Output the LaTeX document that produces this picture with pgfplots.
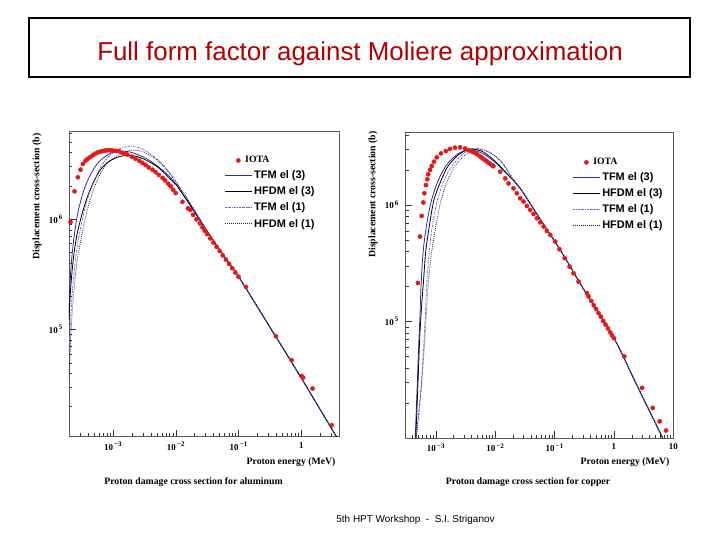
\documentclass[border=0pt]{standalone}
\usepackage{fontspec}
\setmainfont{Liberation Serif}
\newfontfamily\legfont{Liberation Sans}
\usepackage{pgfplots}
\pgfplotsset{compat=1.18}
\definecolor{iotared}{RGB}{228,24,24}
\definecolor{tfmblue}{RGB}{45,45,175}
\definecolor{tfmdot}{RGB}{100,100,210}
\definecolor{hfdmdot}{RGB}{30,30,70}
\definecolor{titlered}{RGB}{178,0,0}
\newcommand{\ex}[1]{10\raisebox{3.5bp}{\fontsize{7}{8}\selectfont\,#1}}
\begin{document}
\begin{tikzpicture}
\fill[white] (0bp,0bp) rectangle (720bp,540bp);
% title box
\draw[line width=1.8bp] (29bp,522bp) rectangle (690bp,463bp);
\node[text=titlered, font=\legfont\fontsize{26}{30}\selectfont] at (360bp,486bp) {Full form factor against Moliere approximation};
\node[font=\legfont\fontsize{10}{12}\selectfont] at (415.5bp,20bp) {5th HPT Workshop \ - \ S.I. Striganov};

% ---------------- aluminum ----------------
\begin{axis}[xmode=log, ymode=log, scale only axis, anchor=south west,
  at={(69bp,103.3bp)}, width=270bp, height=305bp,
  axis line style={draw=black!65, line width=0.5bp},
  every tick/.style={draw=black!80, line width=0.4bp},
  tick align=inside, xtick pos=left, ytick pos=left,
  major tick length=7bp, minor tick length=3.5bp,
  tick label style={font=\bfseries\fontsize{9}{10}\selectfont},
  xticklabel style={yshift=-2bp},
  yticklabel style={xshift=-3bp},
  ytick={1e5,1e6}, yticklabels={\ex{5},\ex{6}},
  legend style={draw=none, fill=none, anchor=north west, inner sep=0pt, row sep=2.6bp,
    font=\legfont\bfseries\fontsize{11}{13}\selectfont, at={(0.575,0.926)}},
  legend cell align=left,
  legend image code/.code={\draw[mark repeat=2,mark phase=2,#1] plot coordinates {(0bp,0bp) (13.5bp,0bp) (27bp,0bp)};},
  xmin=2e-4, xmax=3.98, ymin=1.07e4, ymax=6.18e6,
  xtick={1e-3,1e-2,1e-1,1},
  xticklabels={\ex{−3},\ex{−2},\ex{−1},1},
  minor xtick={3e-4,4e-4,5e-4,6e-4,7e-4,8e-4,9e-4,2e-3,3e-3,4e-3,5e-3,6e-3,7e-3,8e-3,9e-3,2e-2,3e-2,4e-2,5e-2,6e-2,7e-2,8e-2,9e-2,0.2,0.3,0.4,0.5,0.6,0.7,0.8,0.9,2,3},
  minor ytick={2e4,3e4,4e4,5e4,6e4,7e4,8e4,9e4,2e5,3e5,4e5,5e5,6e5,7e5,8e5,9e5,2e6,3e6,4e6,5e6,6e6}]
\addplot[only marks, mark=*, mark size=2.1bp, color=iotared] coordinates {
(2.11e-4,9.40e5) (2.45e-4,1.78e6) (2.77e-4,2.39e6) (3.05e-4,2.80e6) (3.33e-4,3.16e6) (3.67e-4,3.38e6)
(3.98e-4,3.51e6) (4.37e-4,3.65e6) (4.79e-4,3.78e6) (5.25e-4,3.91e6) (5.75e-4,4.01e6) (6.31e-4,4.07e6)
(6.92e-4,4.13e6) (7.59e-4,4.17e6) (8.32e-4,4.19e6) (9.12e-4,4.19e6) (1.00e-3,4.17e6) (1.12e-3,4.14e6)
(1.26e-3,4.11e6) (1.41e-3,3.98e6) (1.58e-3,3.89e6) (1.70e-3,3.83e6) (2.00e-3,3.67e6) (2.29e-3,3.52e6)
(2.63e-3,3.37e6) (2.95e-3,3.22e6) (3.31e-3,3.09e6) (3.72e-3,2.93e6) (4.27e-3,2.80e6) (4.79e-3,2.66e6)
(5.37e-3,2.51e6) (6.17e-3,2.36e6) (6.76e-3,2.24e6) (7.59e-3,2.09e6) (8.32e-3,1.98e6) (9.12e-3,1.84e6)
(1.00e-2,1.72e6) (1.28e-2,1.43e6) (1.57e-2,1.25e6) (1.71e-2,1.21e6) (1.89e-2,1.09e6) (2.14e-2,9.93e5)
(2.42e-2,9.14e5) (2.67e-2,8.41e5) (2.90e-2,7.83e5) (3.16e-2,7.31e5) (3.55e-2,6.68e5) (3.98e-2,6.11e5)
(4.47e-2,5.60e5) (5.01e-2,5.13e5) (5.62e-2,4.68e5) (6.31e-2,4.29e5) (7.08e-2,3.93e5) (7.94e-2,3.59e5)
(8.91e-2,3.28e5) (0.100,3.00e5) (0.131,2.43e5) (0.394,8.69e4) (0.700,5.27e4) (1.01,3.78e4)
(1.07,3.67e4) (1.51,2.92e4) (3.04,1.36e4)};
\addlegendentry{\hspace{-9bp}\rmfamily\fontsize{9.8}{12}\selectfont IOTA}
\addplot[color=tfmblue, line width=0.8bp, no marks, smooth] coordinates {
(2.00e-4,1.41e5) (2.09e-4,2.82e5) (2.24e-4,4.79e5) (2.45e-4,7.41e5) (2.75e-4,1.12e6) (3.31e-4,1.70e6)
(3.98e-4,2.24e6) (5.01e-4,2.88e6) (6.31e-4,3.39e6) (7.94e-4,3.76e6) (1.00e-3,4.02e6) (1.26e-3,4.11e6)
(1.58e-3,4.10e6) (2.00e-3,4.01e6) (2.51e-3,3.82e6) (3.16e-3,3.61e6) (3.98e-3,3.35e6) (5.01e-3,3.05e6)
(6.31e-3,2.74e6) (7.94e-3,2.43e6) (1.00e-2,2.08e6) (1.26e-2,1.72e6) (2.00e-2,1.16e6) (3.16e-2,7.76e5)
(5.62e-2,4.79e5) (0.1,3.02e5) (0.316,1.05e5) (1.0,3.63e4) (3.98,9.77e3)};
\addlegendentry{TFM el (3)}
\addplot[color=black, line width=0.8bp, no marks, smooth] coordinates {
(2.00e-4,1.23e5) (2.09e-4,2.04e5) (2.24e-4,3.39e5) (2.45e-4,5.31e5) (2.75e-4,7.76e5) (3.31e-4,1.17e6)
(3.98e-4,1.62e6) (5.01e-4,2.21e6) (6.31e-4,2.79e6) (7.94e-4,3.20e6) (1.00e-3,3.48e6) (1.26e-3,3.67e6)
(1.58e-3,3.77e6) (2.00e-3,3.76e6) (2.51e-3,3.66e6) (3.16e-3,3.48e6) (3.98e-3,3.25e6) (5.01e-3,2.99e6)
(6.31e-3,2.68e6) (7.94e-3,2.34e6) (1.00e-2,2.07e6) (1.26e-2,1.72e6) (2.00e-2,1.16e6) (3.16e-2,7.76e5)
(5.62e-2,4.79e5) (0.1,3.02e5) (0.316,1.05e5) (1.0,3.63e4) (3.98,9.77e3)};
\addlegendentry{HFDM el (3)}
\addplot[color=tfmdot, line width=0.8bp, no marks, smooth, dash pattern=on 2bp off 1bp on 0.6bp off 1bp] coordinates {
(2.00e-4,5.62e4) (2.09e-4,1.02e5) (2.24e-4,2.04e5) (2.45e-4,3.63e5) (2.75e-4,6.03e5) (3.31e-4,1.02e6)
(3.98e-4,1.55e6) (5.01e-4,2.19e6) (6.31e-4,2.92e6) (7.94e-4,3.51e6) (1.00e-3,3.99e6) (1.26e-3,4.32e6)
(1.58e-3,4.52e6) (2.00e-3,4.59e6) (2.51e-3,4.47e6) (3.16e-3,4.22e6) (3.98e-3,3.87e6) (5.01e-3,3.51e6)
(6.31e-3,3.09e6) (7.94e-3,2.63e6) (1.00e-2,2.19e6) (1.26e-2,1.80e6) (2.00e-2,1.20e6) (3.16e-2,7.76e5)
(5.62e-2,4.79e5) (0.1,3.02e5) (0.316,1.05e5) (1.0,3.63e4) (3.98,9.77e3)};
\addlegendentry{TFM el (1)}
\addplot[color=hfdmdot, line width=0.8bp, no marks, smooth, dash pattern=on 0.8bp off 1.2bp] coordinates {
(2.00e-4,3.47e4) (2.09e-4,6.61e4) (2.24e-4,1.38e5) (2.45e-4,2.57e5) (2.75e-4,4.47e5) (3.31e-4,7.94e5)
(3.98e-4,1.26e6) (5.01e-4,1.91e6) (6.31e-4,2.57e6) (7.94e-4,3.16e6) (1.00e-3,3.55e6) (1.26e-3,3.85e6)
(1.58e-3,4.07e6) (2.00e-3,4.20e6) (2.51e-3,4.17e6) (3.16e-3,4.03e6) (3.98e-3,3.76e6) (5.01e-3,3.44e6)
(6.31e-3,3.02e6) (7.94e-3,2.60e6) (1.00e-2,2.19e6) (1.26e-2,1.80e6) (2.00e-2,1.20e6) (3.16e-2,7.76e5)
(5.62e-2,4.79e5) (0.1,3.02e5) (0.316,1.05e5) (1.0,3.63e4) (3.98,9.77e3)};
\addlegendentry{HFDM el (1)}
\end{axis}

% ---------------- copper ----------------
\begin{axis}[xmode=log, ymode=log, scale only axis, anchor=south west,
  at={(405bp,102bp)}, width=268.3bp, height=305.3bp,
  axis line style={draw=black!65, line width=0.5bp},
  every tick/.style={draw=black!80, line width=0.4bp},
  tick align=inside, xtick pos=left, ytick pos=left,
  major tick length=7bp, minor tick length=3.5bp,
  tick label style={font=\bfseries\fontsize{9}{10}\selectfont},
  xticklabel style={yshift=-2bp},
  yticklabel style={xshift=-3bp},
  ytick={1e5,1e6}, yticklabels={\ex{5},\ex{6}},
  legend style={draw=none, fill=none, anchor=north west, inner sep=0pt, row sep=2.6bp,
    font=\legfont\bfseries\fontsize{11}{13}\selectfont, at={(0.6236,0.923)}},
  legend cell align=left,
  legend image code/.code={\draw[mark repeat=2,mark phase=2,#1] plot coordinates {(0bp,0bp) (13.5bp,0bp) (27bp,0bp)};},
  xmin=3.04e-4, xmax=10, ymin=1e4, ymax=4.17e6,
  xtick={1e-3,1e-2,1e-1,1,10},
  xticklabels={\ex{−3},\ex{−2},\ex{−1},1,10},
  minor xtick={4e-4,5e-4,6e-4,7e-4,8e-4,9e-4,2e-3,3e-3,4e-3,5e-3,6e-3,7e-3,8e-3,9e-3,2e-2,3e-2,4e-2,5e-2,6e-2,7e-2,8e-2,9e-2,0.2,0.3,0.4,0.5,0.6,0.7,0.8,0.9,2,3,4,5,6,7,8,9},
  minor ytick={2e4,3e4,4e4,5e4,6e4,7e4,8e4,9e4,2e5,3e5,4e5,5e5,6e5,7e5,8e5,9e5,2e6,3e6,4e6}]
\addplot[only marks, mark=*, mark size=2.1bp, color=iotared] coordinates {
(5.01e-4,2.14e5) (5.43e-4,5.35e5) (5.81e-4,8.05e5) (6.18e-4,1.05e6) (6.43e-4,1.26e6) (6.85e-4,1.48e6)
(7.21e-4,1.66e6) (7.50e-4,1.83e6) (8.02e-4,2.00e6) (8.57e-4,2.16e6) (9.35e-4,2.35e6) (1.04e-3,2.56e6)
(1.23e-3,2.77e6) (1.48e-3,2.90e6) (1.74e-3,3.02e6) (2.11e-3,3.10e6) (2.57e-3,3.12e6) (3.12e-3,3.06e6)
(3.55e-3,2.95e6) (3.90e-3,2.90e6) (4.31e-3,2.84e6) (4.66e-3,2.78e6) (5.01e-3,2.72e6) (5.58e-3,2.61e6)
(5.95e-3,2.55e6) (6.31e-3,2.48e6) (6.76e-3,2.43e6) (7.24e-3,2.37e6) (7.76e-3,2.30e6) (8.32e-3,2.24e6)
(8.91e-3,2.19e6) (9.35e-3,2.15e6) (1.22e-2,1.93e6) (1.48e-2,1.69e6) (1.68e-2,1.53e6) (2.04e-2,1.39e6)
(2.32e-2,1.26e6) (2.64e-2,1.14e6) (3.01e-2,1.07e6) (3.43e-2,9.79e5) (3.90e-2,9.06e5) (4.44e-2,8.38e5)
(5.05e-2,7.69e5) (5.75e-2,7.10e5) (6.55e-2,6.52e5) (7.45e-2,5.98e5) (8.47e-2,5.53e5) (0.103,4.85e5)
(0.121,4.17e5) (0.148,3.49e5) (0.179,2.96e5) (0.209,2.59e5) (0.254,2.20e5) (0.352,1.75e5)
(0.375,1.64e5) (0.417,1.50e5) (0.457,1.38e5) (0.501,1.28e5) (0.550,1.18e5) (0.603,1.10e5)
(0.661,1.01e5) (0.724,9.40e4) (0.794,8.71e4) (0.871,8.05e4) (0.933,7.59e4) (1.0,7.19e4)
(1.50,5.01e4) (2.98,2.69e4) (4.50,1.81e4) (5.90,1.39e4) (7.55,1.16e4)};
\addlegendentry{\hspace{-9bp}\rmfamily\fontsize{9.8}{12}\selectfont IOTA}
\addplot[color=tfmblue, line width=0.8bp, no marks, smooth] coordinates {
(4.52e-4,1.0e4) (4.84e-4,2.51e4) (5.13e-4,5.62e4) (5.43e-4,1.12e5) (5.69e-4,2.14e5) (6.17e-4,4.07e5)
(7.08e-4,6.92e5) (8.51e-4,1.10e6) (1.10e-3,1.62e6) (1.51e-3,2.19e6) (2.24e-3,2.69e6) (3.16e-3,2.95e6)
(3.98e-3,2.99e6) (6.31e-3,2.75e6) (1.00e-2,2.32e6) (1.58e-2,1.84e6) (2.64e-2,1.39e6) (5.01e-2,8.41e5)
(0.126,4.07e5) (0.316,1.86e5) (1.0,7.21e4) (2.51,2.75e4) (7.08,9.33e3)};
\addlegendentry{TFM el (3)}
\addplot[color=black, line width=0.8bp, no marks, smooth] coordinates {
(4.62e-4,1.0e4) (5.01e-4,2.82e4) (5.37e-4,7.08e4) (5.82e-4,1.41e5) (6.24e-4,2.24e5) (6.76e-4,3.89e5)
(7.76e-4,6.46e5) (9.33e-4,1.10e6) (1.23e-3,1.62e6) (1.62e-3,2.16e6) (2.40e-3,2.69e6) (3.31e-3,2.95e6)
(4.07e-3,3.03e6) (6.31e-3,2.85e6) (1.00e-2,2.37e6) (1.58e-2,1.86e6) (2.64e-2,1.39e6) (5.01e-2,8.41e5)
(0.126,4.07e5) (0.316,1.86e5) (1.0,7.21e4) (2.51,2.75e4) (7.08,9.33e3)};
\addlegendentry{HFDM el (3)}
\addplot[color=tfmdot, line width=0.8bp, no marks, smooth, dash pattern=on 2bp off 1bp on 0.6bp off 1bp] coordinates {
(4.68e-4,1.0e4) (5.13e-4,1.58e4) (5.62e-4,2.63e4) (6.17e-4,5.25e4) (6.61e-4,1.0e5) (7.08e-4,2.14e5)
(7.76e-4,3.89e5) (8.71e-4,6.46e5) (1.07e-3,1.10e6) (1.38e-3,1.62e6) (1.86e-3,2.14e6) (2.75e-3,2.69e6)
(3.80e-3,3.00e6) (5.01e-3,3.05e6) (7.94e-3,2.82e6) (1.26e-2,2.34e6) (2.00e-2,1.66e6) (2.64e-2,1.39e6)
(5.01e-2,8.41e5) (0.126,4.07e5) (0.316,1.86e5) (1.0,7.21e4) (2.51,2.75e4) (7.08,9.33e3)};
\addlegendentry{TFM el (1)}
\addplot[color=hfdmdot, line width=0.8bp, no marks, smooth, dash pattern=on 0.8bp off 1.2bp] coordinates {
(4.68e-4,1.0e4) (5.19e-4,1.58e4) (5.69e-4,2.63e4) (6.31e-4,5.25e4) (6.84e-4,1.0e5) (7.50e-4,2.14e5)
(8.51e-4,3.89e5) (1.00e-3,6.46e5) (1.23e-3,1.10e6) (1.58e-3,1.62e6) (2.11e-3,2.16e6) (3.12e-3,2.68e6)
(4.60e-3,3.02e6) (7.94e-3,2.85e6) (1.26e-2,2.37e6) (2.00e-2,1.68e6) (2.64e-2,1.39e6)
(5.01e-2,8.41e5) (0.126,4.07e5) (0.316,1.86e5) (1.0,7.21e4) (2.51,2.75e4) (7.08,9.33e3)};
\addlegendentry{HFDM el (1)}
\end{axis}

% axis titles
\begin{scope}[every node/.style={font=\bfseries\fontsize{9.8}{12}\selectfont}]
\node[rotate=90, anchor=east] at (37bp,410bp) {Displacement cross-section (b)};
\node[rotate=90, anchor=east] at (373bp,412bp) {Displacement cross-section (b)};
\node[anchor=east] at (339bp,78.3bp) {Proton energy (MeV)};
\node[anchor=east] at (673bp,78.3bp) {Proton energy (MeV)};
\node at (193.5bp,58.3bp) {Proton damage cross section for aluminum};
\node at (528bp,58.3bp) {Proton damage cross section for copper};
\end{scope}
\end{tikzpicture}
\end{document}
